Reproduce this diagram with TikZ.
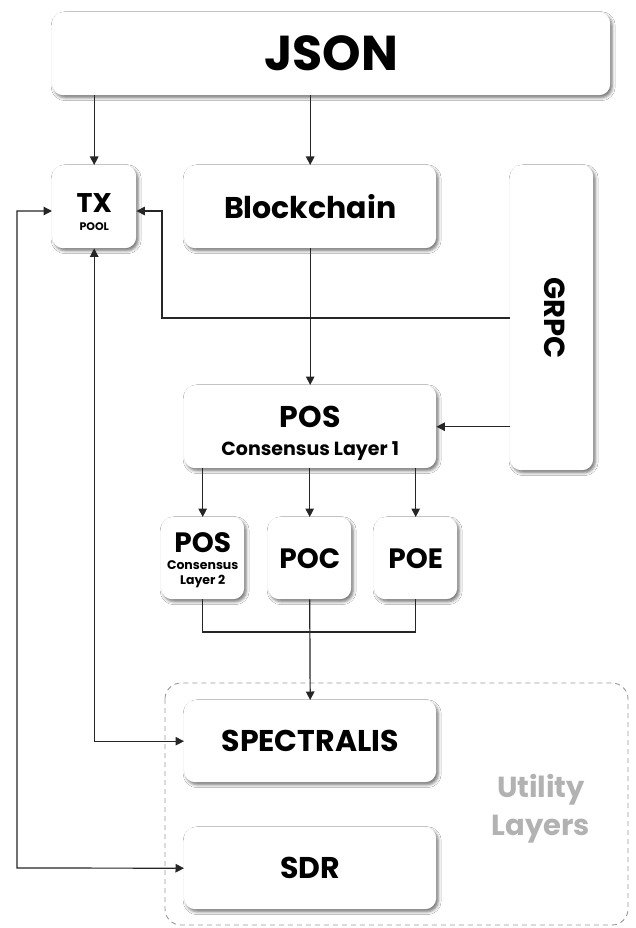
\documentclass[tikz,border=0pt]{standalone}
\usepackage{fontspec}
\setmainfont{Poppins}
\usetikzlibrary{shadows.blur,arrows.meta,calc}
\newcommand{\fs}[1]{\fontsize{#1}{1.15\dimexpr#1\relax}\selectfont}
\tikzset{
  card/.style={fill=white, rounded corners=11pt, inner sep=0pt, anchor=north west,
    align=center, font=\bfseries,
    blur shadow={shadow xshift=2pt, shadow yshift=-2.5pt, shadow blur radius=3pt, shadow opacity=55}},
  lbl/.style={inner sep=0pt, anchor=base, font=\bfseries},
  link/.style={line width=1.2pt, draw=black!85},
  arr/.style={link, -{Triangle[length=8.5pt,width=8.5pt]}},
  arrboth/.style={link, {Triangle[length=8.5pt,width=8.5pt]}-{Triangle[length=8.5pt,width=8.5pt]}},
}
\begin{document}
\begin{tikzpicture}[x=1pt,y=-1pt]
\useasboundingbox (0,0) rectangle (635,928);
\fill[white] (0,0) rectangle (635,928);

% utility layer frame
\draw[dashed, dash pattern=on 5pt off 4pt, draw=black!40, line width=0.9pt, rounded corners=16pt]
  (165,683) rectangle (628,925);
\node[lbl, font=\bfseries\fs{29pt}, text=black!30] (util1) at (541,797) {Utility};
\node[lbl, font=\bfseries\fs{29pt}, text=black!30] (util2) at (541,835) {Layers};

% cards
\node[card, minimum width=558pt, minimum height=83pt, font=\bfseries\fs{49pt}] (json) at (52,12) {JSON};
\node[card, minimum width=84pt, minimum height=83pt] (tx) at (52,165) {};
\node[card, minimum width=252pt, minimum height=83pt, font=\bfseries\fs{30pt}] (bc) at (184,165) {Blockchain};
\node[card, minimum width=83pt, minimum height=305pt] (grpc) at (510,165) {};
\node[card, minimum width=252pt, minimum height=83pt] (pos1) at (184,385) {};
\node[card, minimum width=83pt, minimum height=82pt] (pos2) at (161,517) {};
\node[card, minimum width=83pt, minimum height=82pt, font=\bfseries\fs{28pt}] (poc) at (268,517) {POC};
\node[card, minimum width=83pt, minimum height=82pt, font=\bfseries\fs{28pt}] (poe) at (374,517) {POE};
\node[card, minimum width=252pt, minimum height=82pt, font=\bfseries\fs{30pt}] (spec) at (184,700) {SPECTRALIS};
\node[card, minimum width=252pt, minimum height=82pt, font=\bfseries\fs{30pt}] (sdr) at (184,827) {SDR};

% multi-line card labels
\node[lbl, font=\bfseries\fs{27pt}] (txa) at ($(tx.north)+(0,47)$) {TX};
\node[lbl, font=\bfseries\fs{11pt}] (txb) at ($(tx.north)+(0,65)$) {POOL};
\node[lbl, font=\bfseries\fs{29pt}, rotate=-90, anchor=center] (grpctext) at ($(grpc.center)+(3,0)$) {GRPC};
\node[lbl, font=\bfseries\fs{30pt}] (pos1a) at ($(pos1.north)+(0,42)$) {POS};
\node[lbl, font=\bfseries\fs{19pt}] (pos1b) at ($(pos1.north)+(0,70)$) {Consensus Layer 1};
\node[lbl, font=\bfseries\fs{28pt}] (pos2a) at ($(pos2.north)+(0,35)$) {POS};
\node[lbl, font=\bfseries\fs{12.5pt}] (pos2b) at ($(pos2.north)+(0,52)$) {Consensus};
\node[lbl, font=\bfseries\fs{12.5pt}] (pos2c) at ($(pos2.north)+(0,67)$) {Layer 2};

% routing points
\coordinate (txrow) at (0,211);
\coordinate (grpcbend) at (162,318);
\coordinate (leftbus) at (17,868);
\coordinate (merge) at (0,632);

% connectors
\draw[arr] (json.south -| tx.north) -- (tx.north);
\draw[arr] (json.south -| bc.north) -- (bc.north);
\draw[arr] (bc.south) -- (pos1.north);
\draw[arr] (grpc.west |- grpcbend) -- (grpcbend) |- (tx.east |- txrow);
\draw[arr] (grpc.west |- pos1.east) -- (pos1.east);
\draw[arr] (pos1.south -| pos2.north) -- (pos2.north);
\draw[arr] (pos1.south -| poc.north) -- (poc.north);
\draw[arr] (pos1.south -| poe.north) -- (poe.north);
\draw[link] (pos2.south) -- (pos2.south |- merge) -| (poe.south);
\draw[arr] (poc.south) -- (spec.north);
\draw[arrboth] (tx.south) |- (spec.west);
\draw[arrboth] (tx.west |- txrow) -| (leftbus) -- (sdr.west);
\end{tikzpicture}
\end{document}
